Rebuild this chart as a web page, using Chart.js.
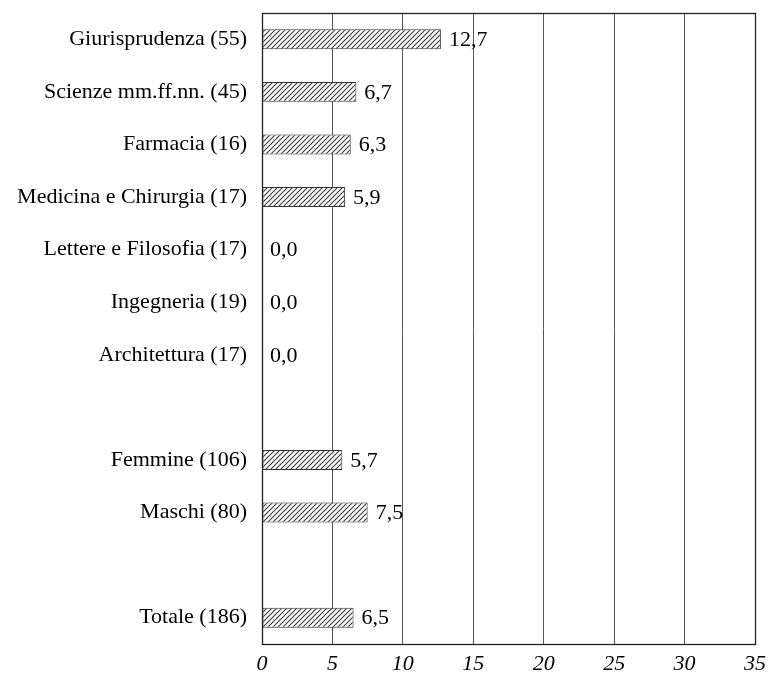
<!DOCTYPE html>
<html><head><meta charset="utf-8">
<script src="https://cdn.jsdelivr.net/npm/chart.js@4"></script>
<style>html,body{margin:0;padding:0;background:#fff}#wrap{width:768px;height:685px}</style>
</head><body><div id="wrap"><canvas id="c" width="768" height="685"></canvas></div>
<script>
const categories = ["Giurisprudenza (55)","Scienze mm.ff.nn. (45)","Farmacia (16)","Medicina e Chirurgia (17)","Lettere e Filosofia (17)","Ingegneria (19)","Architettura (17)","","Femmine (106)","Maschi (80)","","Totale (186)"];
const values = [12.7, 6.7, 6.3, 5.9, 0.0, 0.0, 0.0, null, 5.7, 7.5, null, 6.5];
const xTicks = [0,5,10,15,20,25,30,35];

function hatch(){
  const n = 5;
  const p = document.createElement('canvas'); p.width = n; p.height = n;
  const g = p.getContext('2d');
  g.fillStyle = '#fff'; g.fillRect(0,0,n,n);
  g.strokeStyle = '#3a3a3a'; g.lineWidth = 1.1;
  g.beginPath();
  g.moveTo(0,n); g.lineTo(n,0);
  g.moveTo(-1,1); g.lineTo(1,-1);
  g.moveTo(n-1,n+1); g.lineTo(n+1,n-1);
  g.stroke();
  return document.getElementById('c').getContext('2d').createPattern(p,'repeat');
}

const FONT = '"Liberation Serif", "Times New Roman", serif';

const boxPlugin = {
  id:'box',
  afterDraw(chart){
    const {ctx, chartArea:a} = chart;
    ctx.save(); ctx.strokeStyle = '#222'; ctx.lineWidth = 1.3;
    ctx.strokeRect(a.left+0.5, a.top+0.5, a.right-a.left, a.bottom-a.top);
    ctx.restore();
    const meta = chart.getDatasetMeta(0);
    ctx.save();
    ctx.font = '22px ' + FONT;
    ctx.fillStyle = '#000'; ctx.textBaseline = 'middle'; ctx.textAlign = 'left';
    meta.data.forEach((bar,i)=>{
      const v = values[i];
      if (v === null) return;
      ctx.fillText(v.toFixed(1).replace('.',','), bar.x + 8, bar.y + 1);
    });
    // italic x tick labels
    const xs = chart.scales.x;
    ctx.font = 'italic 22px ' + FONT;
    ctx.textAlign = 'center';
    xTicks.forEach(v=>{
      ctx.fillText(String(v), xs.getPixelForValue(v), a.bottom + 20);
    });
    ctx.restore();
  }
};

new Chart(document.getElementById('c'), {
  type:'bar',
  data:{ labels: categories, datasets:[{ data: values, backgroundColor: hatch(), borderColor:'#333', borderWidth:1, borderSkipped:false, barPercentage:0.76, categoryPercentage:0.5 }]},
  options:{
    indexAxis:'y', responsive:false, animation:false,
    layout:{padding:{top:13,right:13,left:0,bottom:0}},
    plugins:{legend:{display:false}, tooltip:{enabled:false}},
    scales:{
      x:{ min:0, max:35, afterBuildTicks(s){ s.ticks = xTicks.map(v=>({value:v})); },
        grid:{color:'#555', lineWidth:1, drawTicks:false},
        border:{display:false},
        ticks:{ display:false },
        afterFit(s){ s.height = 41; s.paddingLeft = 0; s.paddingRight = 0; }
      },
      y:{ grid:{display:false, drawTicks:false}, border:{display:false},
        ticks:{ color:'#000', padding:15, font:{family:FONT, size:22} },
        afterFit(s){ s.width = 262; s.paddingTop = 0; s.paddingBottom = 0; }
      }
    }
  },
  plugins:[boxPlugin]
});
</script></body></html>
